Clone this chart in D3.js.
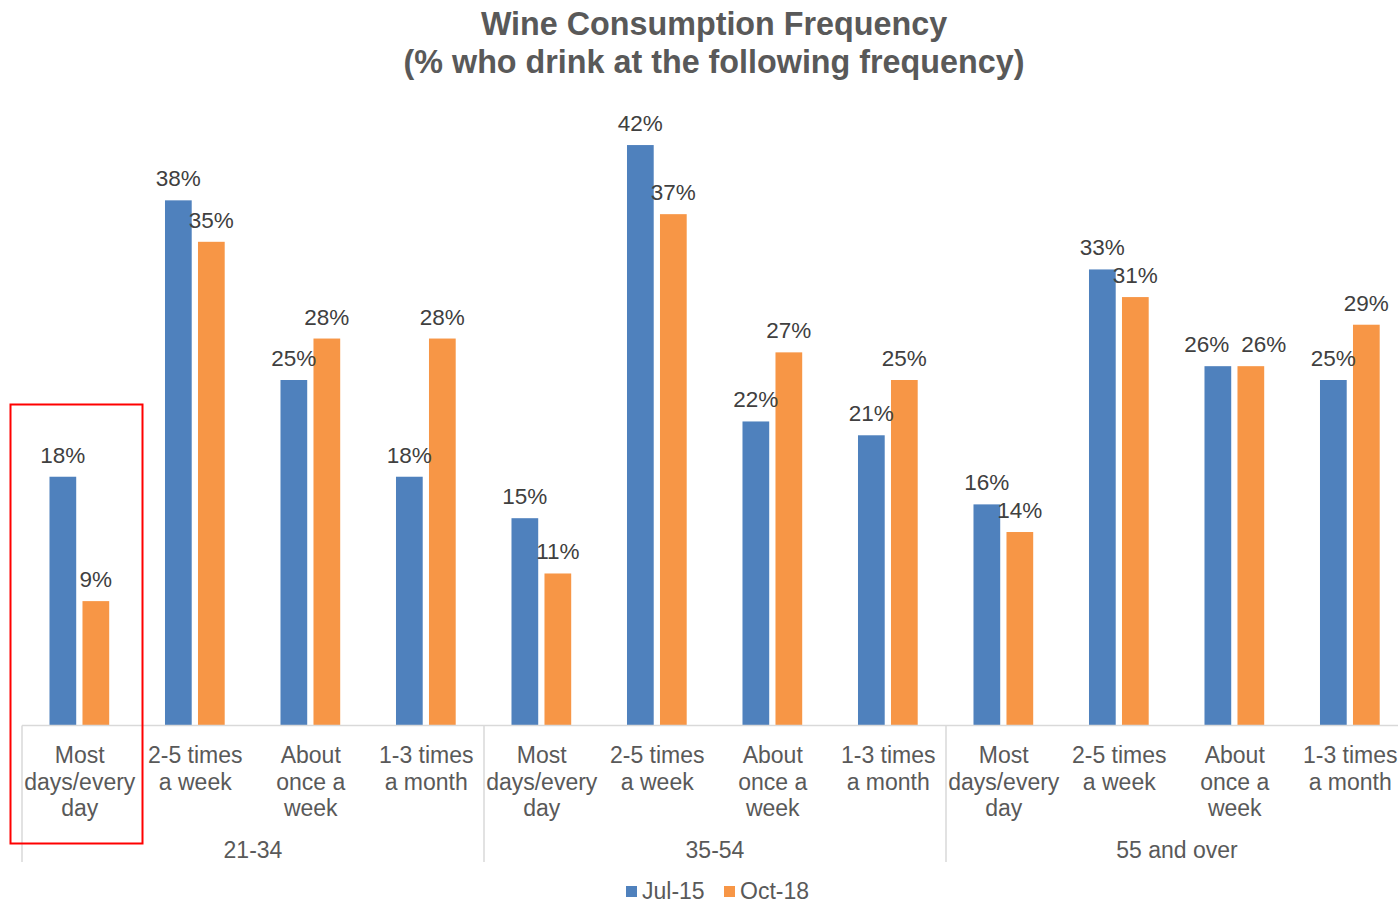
<!DOCTYPE html>
<html>
<head>
<meta charset="utf-8">
<script src="https://cdn.jsdelivr.net/npm/d3@7"></script>
<style>
  html, body { margin: 0; padding: 0; background: #fff; }
  svg { display: block; font-family: "Liberation Sans", Arial, sans-serif; }
</style>
</head>
<body>
<svg id="chart" width="1398" height="903"></svg>
<script>
// Age groups and the frequency categories within each
const groups = ["21-34", "35-54", "55 and over"];
const frequencies = [
  ["Most", "days/every", "day"],
  ["2-5 times", "a week"],
  ["About", "once a", "week"],
  ["1-3 times", "a month"]
];
const seriesNames = ["Jul-15", "Oct-18"];
// Percentages, ordered group by group, frequency by frequency
const jul15 = [18, 38, 25, 18, 15, 42, 22, 21, 16, 33, 26, 25];
const oct18 = [9, 35, 28, 28, 11, 37, 27, 25, 14, 31, 26, 29];
const colors = ["#4F81BD", "#F79646"];

const svg = d3.select("#chart");
const textColor = "#595959";

const rows = [];
groups.forEach((g, gi) => frequencies.forEach((f, fi) => {
  const i = gi * frequencies.length + fi;
  rows.push({ key: i, group: g, label: f, values: [jul15[i], oct18[i]] });
}));

const left = 22, right = 1408, baseline = 725.5;
const x0 = d3.scaleBand().domain(rows.map(d => d.key)).range([left, right]).padding(0);
const x1 = d3.scaleBand().domain(seriesNames)
  .range([x0.bandwidth() * 0.238, x0.bandwidth() * 0.755]).paddingInner(0.19);
const y = d3.scaleLinear().domain([0, 45]).range([baseline, baseline - 45 * 13.82]);

// Title
const title = svg.append("text").attr("text-anchor", "middle")
  .attr("fill", textColor).attr("font-weight", "bold").attr("font-size", 32.3);
title.append("tspan").attr("x", 714).attr("y", 35).text("Wine Consumption Frequency");
title.append("tspan").attr("x", 714).attr("y", 73).text("(% who drink at the following frequency)");

// Bars
const cat = svg.append("g").selectAll("g").data(rows).join("g")
  .attr("transform", d => `translate(${x0(d.key)},0)`);

const pairs = d => d.values.map((v, s) => ({ v, s, tie: d.values[0] === d.values[1] }));

cat.selectAll("rect").data(pairs)
  .join("rect")
  .attr("x", d => x1(seriesNames[d.s]))
  .attr("width", x1.bandwidth())
  .attr("y", d => y(d.v))
  .attr("height", d => y(0) - y(d.v))
  .attr("fill", d => colors[d.s]);

// Value labels; equal-height pairs are nudged apart so they stay readable
cat.selectAll("text.val").data(pairs)
  .join("text").attr("class", "val")
  .attr("x", d => x1(seriesNames[d.s]) + x1.bandwidth() / 2 + (d.tie ? (d.s === 0 ? -11 : 13) : 0))
  .attr("y", d => y(d.v) - 14)
  .attr("text-anchor", "middle")
  .attr("font-size", 22.5)
  .attr("fill", "#404040")
  .text(d => d.v + "%");

// Category axis line
svg.append("line")
  .attr("x1", left).attr("x2", right)
  .attr("y1", baseline).attr("y2", baseline)
  .attr("stroke", "#d9d9d9").attr("stroke-width", 1.5);

// Category labels
cat.append("text")
  .attr("text-anchor", "middle")
  .attr("font-size", 23)
  .attr("fill", textColor)
  .selectAll("tspan").data(d => d.label).join("tspan")
  .attr("x", x0.bandwidth() / 2)
  .attr("y", (d, i) => 763 + i * 26.5)
  .text(d => d);

// Group separators and labels
const groupWidth = x0.bandwidth() * frequencies.length;
const gx = d3.scaleBand().domain(groups).range([left, left + groupWidth * groups.length]);
svg.append("g").selectAll("line").data(groups.concat(["end"])).join("line")
  .attr("x1", (d, i) => left + i * groupWidth)
  .attr("x2", (d, i) => left + i * groupWidth)
  .attr("y1", baseline).attr("y2", 862)
  .attr("stroke", "#d9d9d9").attr("stroke-width", 1.5);
svg.append("g").selectAll("text").data(groups).join("text")
  .attr("x", d => gx(d) + gx.bandwidth() / 2)
  .attr("y", 858)
  .attr("text-anchor", "middle")
  .attr("font-size", 23)
  .attr("fill", textColor)
  .text(d => d);

// Highlight box around the first category
svg.append("rect")
  .attr("x", 10.5).attr("y", 404.5)
  .attr("width", 132).attr("height", 439)
  .attr("fill", "none").attr("stroke", "#ff0000").attr("stroke-width", 2);

// Legend
const legend = svg.append("g");
const legendX = [626, 724];
seriesNames.forEach((s, i) => {
  legend.append("rect").attr("x", legendX[i]).attr("y", 886)
    .attr("width", 11).attr("height", 11).attr("fill", colors[i]);
  legend.append("text").attr("x", legendX[i] + 16).attr("y", 899)
    .attr("font-size", 23).attr("fill", textColor).text(s);
});
</script>
</body>
</html>
